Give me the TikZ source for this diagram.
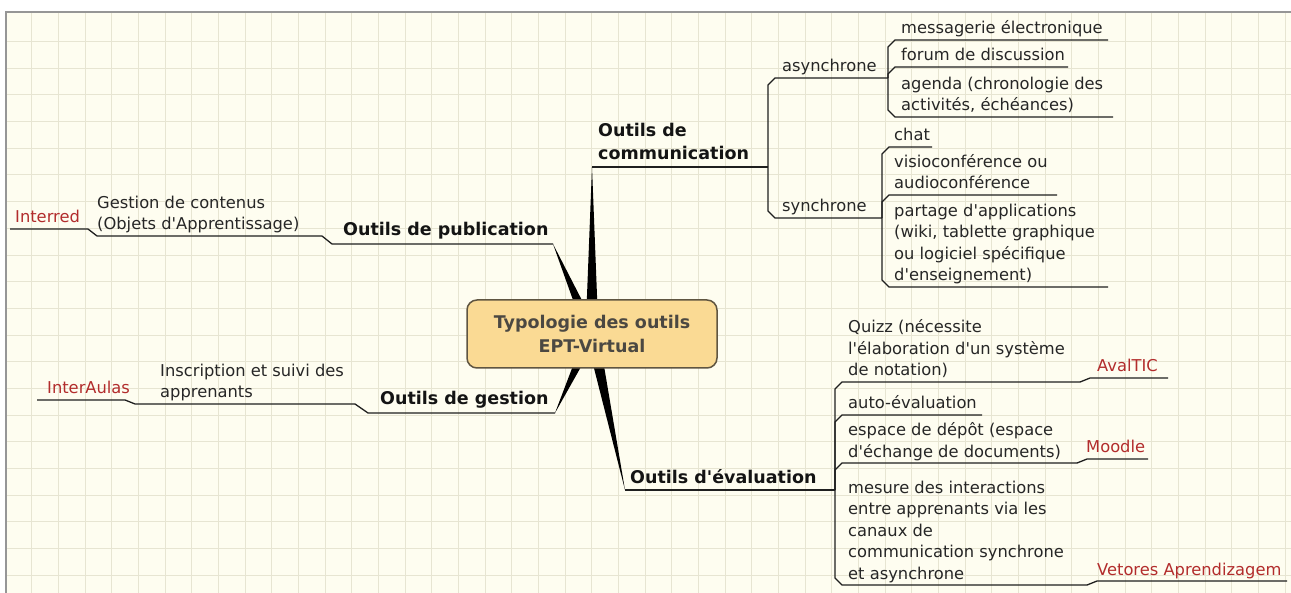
\documentclass[tikz,border=0pt]{standalone}
\usepackage{fontspec}
\setmainfont{DejaVu Sans}
\usetikzlibrary{calc}

\definecolor{paper}{RGB}{254,253,240}
\definecolor{gridc}{RGB}{231,229,210}
\definecolor{framec}{RGB}{150,150,150}
\definecolor{ink}{RGB}{38,38,38}
\definecolor{toolred}{RGB}{178,44,44}
\definecolor{rootfill}{RGB}{250,218,148}
\definecolor{rootdraw}{RGB}{95,85,65}
\definecolor{roottext}{RGB}{75,72,66}

% left-aligned block of lines whose baseline is the last line
\newcommand\txtlines[1]{\begin{tabular}[b]{@{}l@{}}#1\end{tabular}}
% child branch: vertical from a junction, small chamfer, then underline to the end point
\newcommand\twig[3]{\draw[link] (#1) -- ($(#1 |- #2)+(0,#3)$) -- ($(#1 |- #2)+(7,0)$) -- (#2);}
\newcommand\q{\textquotesingle}

\begin{document}
\begin{tikzpicture}[x=1pt,y=-1pt,
  leaf/.style={anchor=base west, inner sep=0pt, text=ink, font=\fontsize{16.3}{21.5}\selectfont},
  topic/.style={anchor=base west, inner sep=0pt, text=black!92, font=\fontsize{17.5}{23}\selectfont\bfseries},
  tool/.style={anchor=base west, inner sep=0pt, text=toolred, font=\fontsize{16.3}{21.5}\selectfont},
  link/.style={draw=black!88, line width=1.3pt, line join=miter},
  gridline/.style={draw=gridc, line width=1pt},
  rootbox/.style={draw=rootdraw, fill=rootfill, line width=1.5pt, rounded corners=10pt,
    minimum width=250pt, minimum height=68pt, align=center, text=roottext,
    font=\fontsize{17.5}{24}\selectfont\bfseries},
]
\useasboundingbox (0,0) rectangle (1291,593);

% squared paper
\fill[white] (0,0) rectangle (1291,593);
\fill[paper] (6,12) rectangle (1291,593);
\foreach \i in {1,...,48} \draw[gridline] ({5+26.667*\i},12) -- ({5+26.667*\i},593);
\foreach \j in {1,...,21} \draw[gridline] (6,{15+26.667*\j}) -- (1291,{15+26.667*\j});
\draw[framec, line width=1.2pt] (6,593) -- (6,12) -- (1291,12);

% anchor points of the main branches
\coordinate (C) at (592,334);
\coordinate (commT) at (592,167);
\coordinate (commJ) at (768,167);
\coordinate (pubT) at (553,244);
\coordinate (interE) at (10,229);
\coordinate (gesT) at (555,413);
\coordinate (aulasE) at (37,400);
\coordinate (evaT) at (625,490);
\coordinate (evaJ) at (835,490);

% tapered main connectors
\foreach \t in {commT,pubT,gesT,evaT}
  \fill[black] ($(C)!6.5pt!90:(\t)$) -- (\t) -- ($(C)!6.5pt!-90:(\t)$) -- cycle;

\node[rootbox] (root) at (C) {Typologie des outils\\EPT-Virtual};

% ---- Outils de communication
\node[topic] (comm) at (598,160) {\txtlines{Outils de\\communication}};
\draw[link] (commT) -- (commJ);
\coordinate (asynJ) at (888,78);
\coordinate (synJ) at (882,218);
\twig{commJ}{asynJ}{7}
\twig{commJ}{synJ}{-7}
\node[leaf] (asyn) at (782,72) {asynchrone};
\node[leaf] (syn) at (782,212) {synchrone};

\coordinate (mailE) at (1108,40);
\coordinate (forumE) at (1068,67);
\coordinate (agendaE) at (1113,117);
\twig{asynJ}{mailE}{7}
\twig{asynJ}{forumE}{7}
\twig{asynJ}{agendaE}{-7}
\node[leaf] (mail) at (901,34) {messagerie électronique};
\node[leaf] (forum) at (901,61) {forum de discussion};
\node[leaf] (agenda) at (901,111) {\txtlines{agenda (chronologie des\\activités, échéances)}};

\coordinate (chatE) at (932,147);
\coordinate (visioE) at (1057,195);
\coordinate (shareE) at (1108,287);
\twig{synJ}{chatE}{7}
\twig{synJ}{visioE}{7}
\twig{synJ}{shareE}{-7}
\node[leaf] (chat) at (894,141) {chat};
\node[leaf] (visio) at (894,189) {\txtlines{visioconférence ou\\audioconférence}};
\node[leaf] (share) at (894,281) {\txtlines{partage d\q applications\\(wiki, tablette graphique\\ou logiciel spécifique\\d\q enseignement)}};

% ---- Outils de publication
\node[topic] (pub) at (343,236) {Outils de publication};
\draw[link] (pubT) -- (332,244) -- (322,236) -- (97,236) -- (88,229) -- (interE);
\node[leaf] (contenus) at (97,230) {\txtlines{Gestion de contenus\\(Objets d\q Apprentissage)}};
\node[tool] (interred) at (15,223) {Interred};

% ---- Outils de gestion
\node[topic] (ges) at (380,405) {Outils de gestion};
\draw[link] (gesT) -- (368,413) -- (355,404) -- (135,404) -- (125,400) -- (aulasE);
\node[leaf] (inscr) at (160,398) {\txtlines{Inscription et suivi des\\apprenants}};
\node[tool] (aulas) at (47,394) {InterAulas};

% ---- Outils d'évaluation
\node[topic] (eva) at (630,483) {Outils d\q évaluation};
\draw[link] (evaT) -- (evaJ);
\coordinate (quizE) at (1080,382);
\coordinate (autoE) at (982,415);
\coordinate (depotE) at (1077,463);
\coordinate (mesE) at (1087,585);
\twig{evaJ}{quizE}{7}
\twig{evaJ}{autoE}{7}
\twig{evaJ}{depotE}{7}
\twig{evaJ}{mesE}{-7}
\node[leaf] (quiz) at (848,376) {\txtlines{Quizz (nécessite\\l\q élaboration d\q un système\\de notation)}};
\node[leaf] (auto) at (848,409) {auto-évaluation};
\node[leaf] (depot) at (848,457) {\txtlines{espace de dépôt (espace\\d\q échange de documents)}};
\node[leaf] (mes) at (848,579) {\txtlines{mesure des interactions\\entre apprenants via les\\canaux de\\communication synchrone\\et asynchrone}};

% example platforms
\coordinate (avalE) at (1168,378);
\coordinate (moodleE) at (1148,459);
\coordinate (vetE) at (1287,581);
\draw[link] (quizE) -- (1090,378) -- (avalE);
\draw[link] (depotE) -- (1087,459) -- (moodleE);
\draw[link] (mesE) -- (1097,581) -- (vetE);
\node[tool] (aval) at (1097,372) {AvalTIC};
\node[tool] (moodle) at (1086,453) {Moodle};
\node[tool] (vet) at (1097,575) {Vetores Aprendizagem};
\end{tikzpicture}
\end{document}
